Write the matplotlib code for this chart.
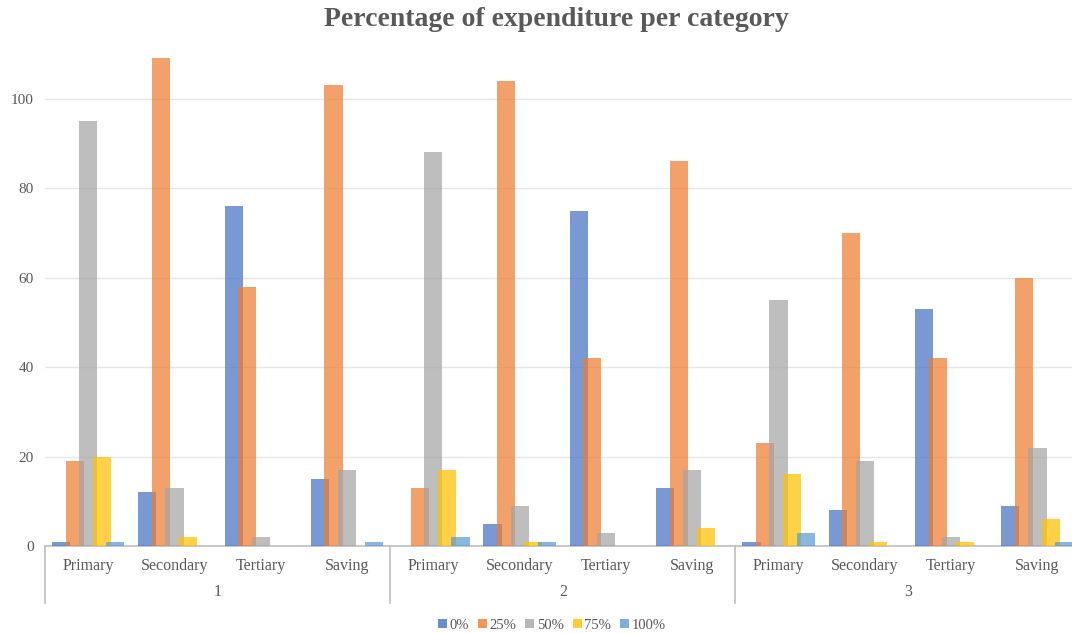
import matplotlib
matplotlib.use("Agg")
import matplotlib.pyplot as plt
import matplotlib.transforms as mtransforms
from matplotlib.patches import Patch
import numpy as np

groups = ["1", "2", "3"]
subcats = ["Primary", "Secondary", "Tertiary", "Saving"]
series = ["0%", "25%", "50%", "75%", "100%"]

v0 = [1, 12, 76, 15, 0, 5, 75, 13, 1, 8, 53, 9]
v25 = [19, 109, 58, 103, 13, 104, 42, 86, 23, 70, 42, 60]
v50 = [95, 13, 2, 17, 88, 9, 3, 17, 55, 19, 2, 22]
v75 = [20, 2, 0, 0, 17, 1, 0, 4, 16, 1, 1, 6]
v100 = [1, 0, 0, 1, 2, 1, 0, 0, 3, 0, 0, 1]
values = [v0, v25, v50, v75, v100]
colors = ["#4472C4", "#ED7D31", "#A5A5A5", "#FFC000", "#5B9BD5"]

plt.rcParams['font.family'] = ['Liberation Serif', 'DejaVu Serif']
fig = plt.figure(figsize=(10.72, 6.34), dpi=100)
ax = fig.add_axes([45/1072, 88/634, 1035.6/1072, 492/634])

n = len(groups) * len(subcats)
x = np.arange(n)
step = 0.157
width = 0.21
for k, (vals, col) in enumerate(zip(values, colors)):
    ax.bar(x + (k - 2) * step, vals, width=width, color=col, alpha=0.72,
           linewidth=0, zorder=3)

ax.set_xlim(-0.5, n - 0.5)
ax.set_ylim(0, 110)
ax.set_yticks([0, 20, 40, 60, 80, 100])
ax.yaxis.grid(True, color="#E6E6E6", linewidth=1, zorder=0)
ax.set_axisbelow(True)
ax.tick_params(axis='y', length=0, labelsize=11, labelcolor="#595959", pad=8)
ax.set_xticks([])
for s in ["top", "right", "left"]:
    ax.spines[s].set_visible(False)
ax.spines["bottom"].set_color("#BFBFBF")
ax.spines["bottom"].set_linewidth(1.2)

trans = mtransforms.blended_transform_factory(ax.transData, ax.transAxes)
labels_sub = subcats * len(groups)
for i, lab in enumerate(labels_sub):
    ax.text(i, -0.041, lab, transform=trans, ha="center", va="center",
            fontsize=11.5, color="#595959")
for g, glab in enumerate(groups):
    ax.text(g * 4 + 1.5, -0.094, glab, transform=trans, ha="center",
            va="center", fontsize=11.5, color="#595959")
for xv in [-0.5, 3.5, 7.5, 11.5]:
    ax.plot([xv, xv], [0, -0.116], transform=trans, color="#BFBFBF",
            linewidth=1.2, clip_on=False)

fig.text(0.519, 0.970, "Percentage of expenditure per category", ha="center",
         va="center", fontsize=20, fontweight="bold", color="#595959")

handles = [Patch(facecolor=c, alpha=0.8, linewidth=0) for c in colors]
fig.legend(handles, series, loc="center", bbox_to_anchor=(0.515, 0.014),
           ncol=5, frameon=False, fontsize=10.5, handlelength=0.6,
           handleheight=0.6, handletextpad=0.2, columnspacing=0.6,
           labelcolor="#595959")

fig.savefig("out.png", dpi=100)
